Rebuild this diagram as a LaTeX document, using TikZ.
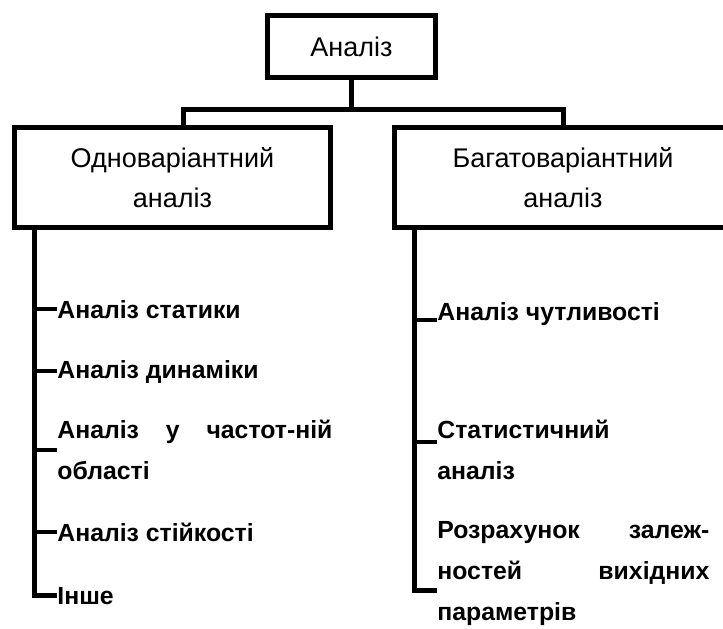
\documentclass[tikz,border=0pt]{standalone}
\usepackage{fontspec}
\setmainfont{Liberation Sans}
\usetikzlibrary{positioning}

\begin{document}
\begin{tikzpicture}[x=0.5pt, y=-0.5pt,
  box/.style={rectangle, draw=black, line width=2.5pt, inner sep=0pt, align=center, font=\fontsize{13.5}{20}\selectfont},
  item/.style={inner sep=0pt, align=left, font=\bfseries\fontsize{12.4}{20.5}\selectfont},
  link/.style={line width=2.5pt},
  tick/.style={line width=2pt}]

  \useasboundingbox (0,0) rectangle (723,628);

  % Nodes
  \node (root) [box, minimum width=84pt, minimum height=31pt] at (351.5,46.5) {Аналіз};
  \node (uni) [box, minimum width=158pt, minimum height=50pt] at (172.5,177.5) {Одноваріантний\\аналіз};
  \node (multi) [box, minimum width=168.5pt, minimum height=50pt] at (563,177.5) {Багатоваріантний\\аналіз};

  \node (stat) [item, anchor=base west] at (57,318) {Аналіз статики};
  \node (dyn) [item, anchor=base west] at (57,378) {Аналіз динаміки};
  \node (freq) [item, anchor=north west] at (57,420) {\makebox[137.5pt][s]{Аналіз у частот-ній}\\області};
  \node (stab) [item, anchor=base west] at (57,541) {Аналіз стійкості};
  \node (other) [item, anchor=base west] at (57,604) {Інше};

  \node (sens) [item, anchor=base west] at (437,320) {Аналіз чутливості};
  \node (statan) [item, anchor=north west] at (437,420) {Статистичний\\аналіз};
  \node (deps) [item, anchor=north west] at (437,521) {\makebox[136pt][s]{Розрахунок залеж-}\\\makebox[136pt][s]{ностей вихідних}\\параметрів};

  % Lines
  \draw [link] (root.south) -- ++(0,29.5) coordinate (fork);
  \draw [link] ([xshift=5.5pt]uni.north) |- (fork) -| (multi.north);

  \coordinate (lsp) at ([xshift=11pt]uni.south west);
  \draw [link] (lsp) |- (other.west);
  \foreach \n in {stat,dyn,freq,stab}
    \draw [tick] (\n.west -| lsp) -- (\n.west);

  \coordinate (rsp) at ([xshift=11pt]multi.south west);
  \coordinate (statanTick) at ([yshift=-11pt]statan.north west);
  \coordinate (depsTick) at ([yshift=-34.5pt]deps.north west);
  \draw [link] (rsp) |- (depsTick);
  \draw [tick] (sens.base west -| rsp) -- (sens.base west);
  \draw [tick] (statanTick -| rsp) -- (statanTick);
\end{tikzpicture}
\end{document}
